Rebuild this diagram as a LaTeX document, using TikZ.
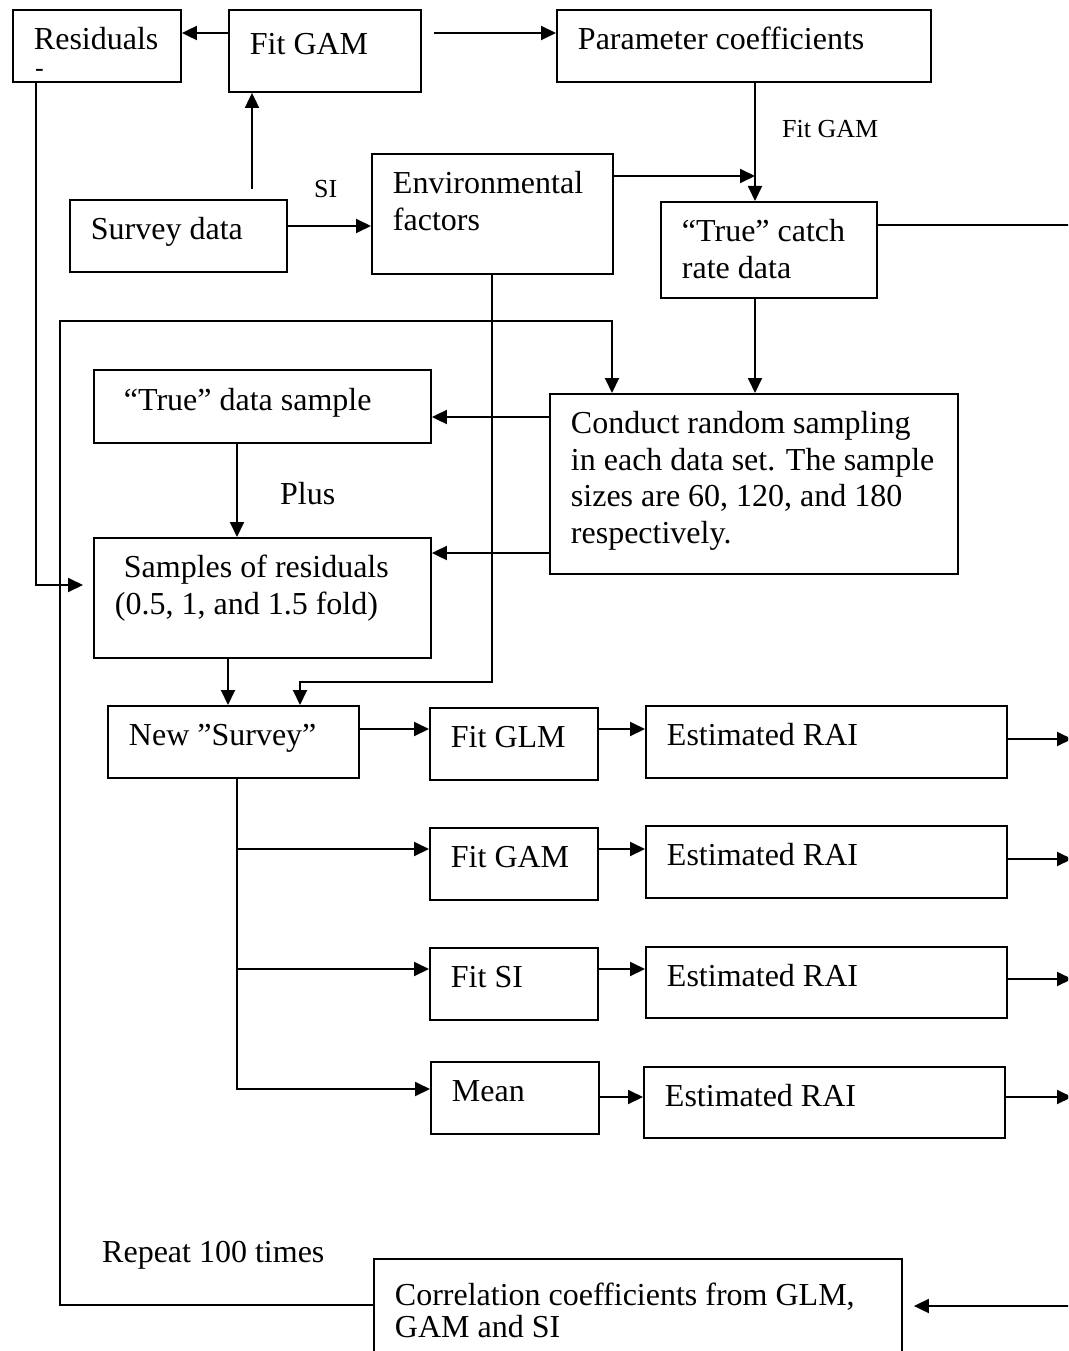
\documentclass[tikz,border=0pt]{standalone}
\usepackage{fontspec}
\setmainfont{Liberation Serif}
\usetikzlibrary{arrows.meta}
\hyphenpenalty=10000
\tikzstyle{block} = [rectangle, draw, line width=1.9pt, anchor=north west, align=flush left,
    inner xsep=21pt, inner ysep=0pt, text height=22pt, text depth=14pt,
    execute at begin node={\spaceskip=0pt \xspaceskip=0pt},
    font=\fontsize{32}{36.5}\selectfont]
\tikzstyle{line} = [draw, line width=1.9pt, -{Triangle[length=15pt,width=14pt]}]
\tikzstyle{lbl} = [inner sep=0pt, anchor=base west, font=\fontsize{32}{36.5}\selectfont]
\tikzstyle{small} = [lbl, font=\fontsize{26}{30}\selectfont]

\begin{document}
\begin{tikzpicture}[x=1pt, y=-1pt]
  \useasboundingbox (0,0) rectangle (1068,1351);
  \clip (0,0) rectangle (1068,1351);
  % top row
  \node [block, minimum width=168pt, text width=126pt, minimum height=72pt] (resid) at (12,9) {Residuals};
  \node [block, minimum width=192pt, text width=150pt, minimum height=82pt] (fitgam) at (228,9) {Fit GAM};
  \node [block, minimum width=374pt, text width=332pt, minimum height=72pt] (param) at (556,9) {Parameter coefficients};
  \node [block, minimum width=217pt, text width=175pt, minimum height=72pt] (survey) at (69,199) {Survey data};
  \node [block, minimum width=241pt, text width=199pt, minimum height=120pt, text depth=62pt] (env) at (371,153) {Environmental\\factors};
  \node [block, minimum width=216pt, text width=174pt, minimum height=96pt, text depth=38pt] (truecatch) at (660,201) {“True” catch\\rate data};
  % sampling
  \node [block, minimum width=337pt, text width=295pt, minimum height=73pt] (truesample) at (93,369) {\hspace*{9pt}“True” data sample};
  \node [block, minimum width=337pt, text width=295pt, minimum height=120pt, text depth=62pt] (samples) at (93,537) {\hspace*{9pt}Samples of residuals\\(0.5, 1, and 1.5 fold)};
  \node [block, minimum width=408pt, text width=366pt, minimum height=180pt, text depth=122pt] (conduct) at (549,393) {Conduct random sampling\\in each data set. The sample\\sizes are 60, 120, and 180\\respectively.};
  % models
  \node [block, minimum width=251pt, text width=209pt, minimum height=72pt] (newsurvey) at (107,705) {New ”Survey”};
  \node [block, minimum width=168pt, text width=126pt, minimum height=72pt] (fitglm) at (429,707) {Fit GLM};
  \node [block, minimum width=168pt, text width=126pt, minimum height=72pt] (fitgamb) at (429,827) {Fit GAM};
  \node [block, minimum width=168pt, text width=126pt, minimum height=72pt] (fitsi) at (429,947) {Fit SI};
  \node [block, minimum width=168pt, text width=126pt, minimum height=72pt] (mean) at (430,1061) {Mean};
  \node [block, minimum width=361pt, text width=319pt, minimum height=72pt] (rai1) at (645,705) {Estimated RAI};
  \node [block, minimum width=361pt, text width=319pt, minimum height=72pt] (rai2) at (645,825) {Estimated RAI};
  \node [block, minimum width=361pt, text width=319pt, minimum height=71pt] (rai3) at (645,946) {Estimated RAI};
  \node [block, minimum width=361pt, text width=319pt, minimum height=71pt] (rai4) at (643,1066) {Estimated RAI};
  \node [block, minimum width=528pt, text width=486pt, minimum height=122pt, text depth=50pt] (corr) at (373,1258) {Correlation coefficients from GLM,\\[-4.5pt]GAM and SI};
  % labels
  \node [small] (dash) at (35,77) {-};
  \node [small] (silbl) at (314,197) {SI};
  \node [small] (fitlbl) at (782,138) {Fit GAM};
  \node [lbl] (pluslbl) at (280,504) {Plus};
  \node [lbl] (repeatlbl) at (102,1262) {Repeat 100 times};
  \coordinate (gamin) at (755,176);
  \coordinate (bus) at (1072,0);
  % connectors
  \path [line] (fitgam.west |- 0,33) -- (resid.east |- 0,33);
  \path [line] (fitgam.east |- 0,33) ++(12,0) -- (param.west |- 0,33);
  \path [line] (survey.north -| 252,0) ++(0,-10) -- (fitgam.south -| 252,0);
  \path [line] (survey.east |- 0,226) -- (env.west |- 0,226);
  \path [line] (param.south -| 755,0) -- (truecatch.north -| 755,0);
  \path [line] (env.east |- gamin) -- (gamin);
  \path [line, shorten >=11pt] (truecatch.east |- 0,225) -| (bus |- 0,1306) -- (corr.east |- 0,1306);
  \path [line] (truecatch.south -| 755,0) -- (conduct.north -| 755,0);
  \path [line] (corr.west |- 0,1305) -- (60,1305) -- (60,321) -| (conduct.north -| 612,0);
  \path [line] (conduct.west |- 0,417) -- (truesample.east |- 0,417);
  \path [line] (conduct.west |- 0,553) -- (samples.east |- 0,553);
  \path [line] (truesample.south -| 237,0) -- (samples.north -| 237,0);
  \path [line, shorten >=10pt] (resid.south -| 36,0) |- (samples.west |- 0,585);
  \path [line] (samples.south -| 228,0) -- (newsurvey.north -| 228,0);
  \path [line] (env.south -| 492,0) |- (300,682) -- (newsurvey.north -| 300,0);
  \path [line] (newsurvey.east |- 0,729) -- (fitglm.west |- 0,729);
  \foreach \n/\y in {fitgamb/849, fitsi/969, mean/1089}
    \path [line] (newsurvey.south -| 237,0) |- (\n.west |- 0,\y);
  \path [line] (fitglm.east |- 0,729) -- (rai1.west |- 0,729);
  \path [line] (fitgamb.east |- 0,849) -- (rai2.west |- 0,849);
  \path [line] (fitsi.east |- 0,969) -- (rai3.west |- 0,969);
  \path [line] (mean.east |- 0,1097) -- (rai4.west |- 0,1097);
  \foreach \n/\y in {rai1/739, rai2/859, rai3/979, rai4/1097}
    \path [line] (\n.east |- 0,\y) -- (bus |- 0,\y);
\end{tikzpicture}
\end{document}
